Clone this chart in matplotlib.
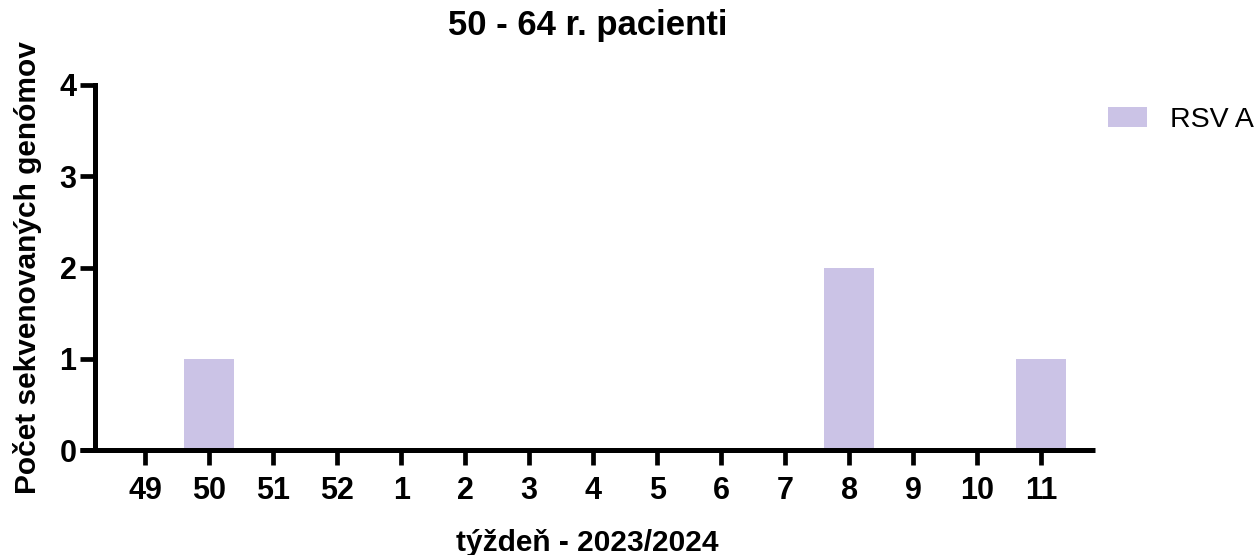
import matplotlib
matplotlib.use("Agg")
import matplotlib.pyplot as plt
from matplotlib.patches import Patch

plt.rcParams['font.family'] = ['Liberation Sans', 'DejaVu Sans']

weeks = ["49", "50", "51", "52", "1", "2", "3", "4", "5", "6", "7", "8", "9", "10", "11"]
rsv_a = [0, 1, 0, 0, 0, 0, 0, 0, 0, 0, 0, 2, 0, 0, 1]
y_ticks = [0, 1, 2, 3, 4]

bar_color = "#CBC3E6"

fig = plt.figure(figsize=(12.6, 5.55), dpi=100)
ax = fig.add_axes([80 / 1260, 1 - 450 / 555, (1095 - 80) / 1260, (450 - 85) / 555])

pos = list(range(len(weeks)))
ax.bar(pos, rsv_a, width=0.78, color=bar_color, zorder=2)

ax.set_xlim(-1.02, 14.84)
ax.set_ylim(0, 4)

for s in ("top", "right"):
    ax.spines[s].set_visible(False)
ax.spines["left"].set_position(("data", -0.78))
ax.spines["left"].set_linewidth(3.6)
ax.spines["bottom"].set_linewidth(3.6)
ax.spines["left"].set_capstyle("projecting")
ax.spines["bottom"].set_capstyle("butt")

ax.set_xticks(pos)
ax.set_xticklabels(weeks)
ax.set_yticks(y_ticks)
ax.tick_params(axis="both", length=10.5, width=3.4, labelsize=22)
ax.tick_params(axis="x", pad=8)
ax.tick_params(axis="y", pad=3)
for lbl in ax.get_xticklabels() + ax.get_yticklabels():
    lbl.set_fontweight("bold")

ax.set_xlabel("týždeň - 2023/2024", fontsize=21.5, fontweight="bold", labelpad=17)
ax.set_ylabel("Počet sekvenovaných genómov", fontsize=21.5, fontweight="bold", labelpad=13)
ax.set_title("50 - 64 r. pacienti", fontsize=25, fontweight="bold", pad=36)

handles = [Patch(facecolor=bar_color, edgecolor="none", label="RSV A")]
fig.legend(handles=handles, loc="center left", bbox_to_anchor=(1108 / 1260, 1 - 120 / 555),
           frameon=False, fontsize=20.5, borderpad=0, borderaxespad=0,
           handlelength=1.37, handleheight=0.67, handletextpad=0.8)

fig.savefig("out.png", dpi=100)
